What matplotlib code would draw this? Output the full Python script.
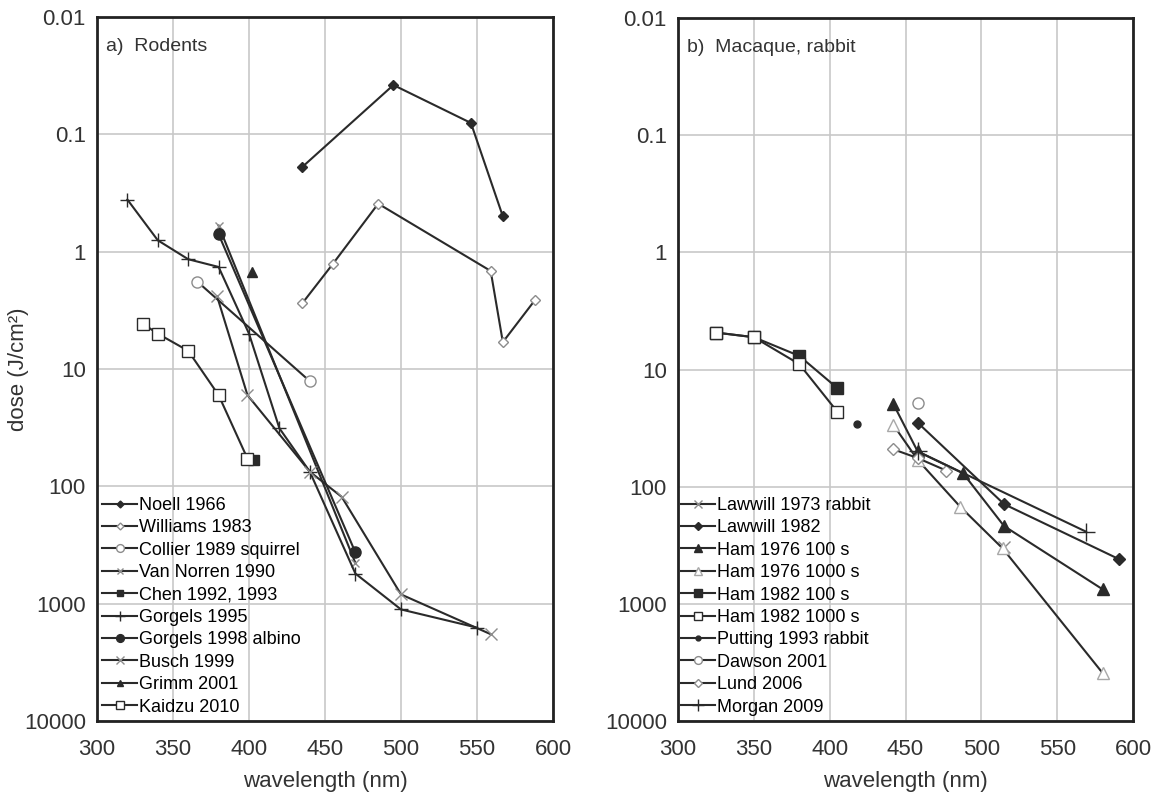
import matplotlib
matplotlib.use("Agg")
import matplotlib.pyplot as plt

plt.rcParams['font.family'] = ['Liberation Sans', 'DejaVu Sans']

# ---------------------------------------------------------------------------
# a) Rodents  (wavelength nm, dose J/cm2)
noell_x = [435, 495, 546, 567]
noell_y = [0.19, 0.038, 0.08, 0.5]
williams_x = [435, 455, 485, 559, 567, 588]
williams_y = [2.76, 1.28, 0.39, 1.46, 5.9, 2.6]
collier_x = [366, 440]
collier_y = [1.8, 12.7]
vannorren_x = [380, 470]
vannorren_y = [0.6, 450]
chen_x = [403]
chen_y = [60]
gorgels95_x = [320, 340, 360, 380, 400, 420, 440, 470, 500, 550]
gorgels95_y = [0.36, 0.8, 1.16, 1.35, 5.0, 32, 75, 554, 1120, 1600]
gorgels98_x = [380, 470]
gorgels98_y = [0.71, 366]
busch_x = [379, 399, 440, 461, 500, 559]
busch_y = [2.4, 16.7, 75, 123, 834, 1820]
grimm_x = [402]
grimm_y = [1.48]
kaidzu_x = [330, 340, 360, 380, 399]
kaidzu_y = [4.1, 5.0, 7.0, 16.7, 58]

# b) Macaque, rabbit
lawwill73_x = [515]
lawwill73_y = [330]
lawwill82_x = [458, 515, 591]
lawwill82_y = [28.4, 141, 417]
ham76_100_x = [442, 458, 488, 515, 580]
ham76_100_y = [19.7, 50, 77, 217, 752]
ham76_1000_x = [442, 458, 486, 514, 580]
ham76_1000_y = [29.7, 59, 148, 336, 3900]
ham82_100_x = [325, 350, 380, 405]
ham82_100_y = [4.84, 5.3, 7.66, 14.4]
ham82_1000_x = [325, 350, 380, 405]
ham82_1000_y = [4.84, 5.3, 9.0, 22.9]
putting_x = [418]
putting_y = [29]
dawson_x = [458]
dawson_y = [19.2]
lund_x = [442, 458, 477]
lund_y = [48, 57, 73]
morgan_x = [458, 569]
morgan_y = [50, 242]

xticks = [300, 350, 400, 450, 500, 550, 600]
yticks = [0.01, 0.1, 1, 10, 100, 1000, 10000]
ylabels = ["0.01", "0.1", "1", "10", "100", "1000", "10000"]

LC = "#2a2a2a"
GR = "#8c8c8c"
TC = "#333333"

rodents = [
    ("Noell 1966", noell_x, noell_y, dict(marker="D", ms=5, mfc=LC, mec=LC)),
    ("Williams 1983", williams_x, williams_y, dict(marker="D", ms=5, mfc="white", mec=GR)),
    ("Collier 1989 squirrel", collier_x, collier_y, dict(marker="o", ms=8, mfc="white", mec=GR)),
    ("Van Norren 1990", vannorren_x, vannorren_y, dict(marker="x", ms=6, mec=GR)),
    ("Chen 1992, 1993", chen_x, chen_y, dict(marker="s", ms=7, mfc=LC, mec=LC)),
    ("Gorgels 1995", gorgels95_x, gorgels95_y, dict(marker="+", ms=10, mec=LC)),
    ("Gorgels 1998 albino", gorgels98_x, gorgels98_y, dict(marker="o", ms=8, mfc=LC, mec=LC)),
    ("Busch 1999", busch_x, busch_y, dict(marker="x", ms=8, mec=GR)),
    ("Grimm 2001", grimm_x, grimm_y, dict(marker="^", ms=7, mfc=LC, mec=LC)),
    ("Kaidzu 2010", kaidzu_x, kaidzu_y, dict(marker="s", ms=8, mfc="white", mec=LC)),
]

macaque = [
    ("Lawwill 1973 rabbit", lawwill73_x, lawwill73_y, dict(marker="x", ms=8, mec=GR)),
    ("Lawwill 1982", lawwill82_x, lawwill82_y, dict(marker="D", ms=6, mfc=LC, mec=LC)),
    ("Ham 1976 100 s", ham76_100_x, ham76_100_y, dict(marker="^", ms=8, mfc=LC, mec=LC)),
    ("Ham 1976 1000 s", ham76_1000_x, ham76_1000_y, dict(marker="^", ms=8, mfc="white", mec="#a8a8a8")),
    ("Ham 1982 100 s", ham82_100_x, ham82_100_y, dict(marker="s", ms=8, mfc=LC, mec=LC)),
    ("Ham 1982 1000 s", ham82_1000_x, ham82_1000_y, dict(marker="s", ms=8, mfc="white", mec=LC)),
    ("Putting 1993 rabbit", putting_x, putting_y, dict(marker="o", ms=5, mfc=LC, mec=LC)),
    ("Dawson 2001", dawson_x, dawson_y, dict(marker="o", ms=8, mfc="white", mec=GR)),
    ("Lund 2006", lund_x, lund_y, dict(marker="D", ms=6, mfc="white", mec=GR)),
    ("Morgan 2009", morgan_x, morgan_y, dict(marker="+", ms=13, mec=LC)),
]


def panel(ax, series, title, legend_x):
    for name, x, y, style in series:
        ax.plot(x, y, color=LC, lw=1.5, label=name, **style)
    ax.set_yscale("log")
    ax.set_ylim(10000, 0.01)
    ax.set_xlim(300, 600)
    ax.set_xticks(xticks)
    ax.set_yticks(yticks)
    ax.set_yticklabels(ylabels)
    ax.minorticks_off()
    ax.tick_params(axis="both", length=0, labelsize=16, colors=TC)
    ax.tick_params(axis="x", pad=13)
    ax.tick_params(axis="y", pad=8)
    ax.grid(True, color="#c8c8c8", lw=1.2)
    ax.set_axisbelow(True)
    for s in ax.spines.values():
        s.set_linewidth(2)
        s.set_color("#222222")
    ax.text(0.02, 0.958, title, transform=ax.transAxes, fontsize=14, color=TC, va="center")
    ax.set_xlabel("wavelength (nm)", fontsize=16, color=TC, labelpad=8)
    ax.legend(loc="lower left", bbox_to_anchor=(legend_x, 0.0), frameon=False, fontsize=13,
              handlelength=1.9, handletextpad=0.1, labelspacing=0.3, borderaxespad=0.1,
              borderpad=0.2, markerscale=0.7)


fig = plt.figure(figsize=(11.61, 8.0), dpi=100)
ax1 = fig.add_axes([97 / 1161, 1 - 721 / 800, 456 / 1161, 704 / 800])
ax2 = fig.add_axes([678 / 1161, 1 - 721 / 800, 455 / 1161, 703 / 800])

panel(ax1, rodents, "a)  Rodents", 0.0)
panel(ax2, macaque, "b)  Macaque, rabbit", -0.006)
ax1.set_ylabel("dose (J/cm²)", fontsize=16, color=TC)
ax1.yaxis.set_label_coords(-0.15, 0.5)

fig.savefig("out.png", dpi=100)
